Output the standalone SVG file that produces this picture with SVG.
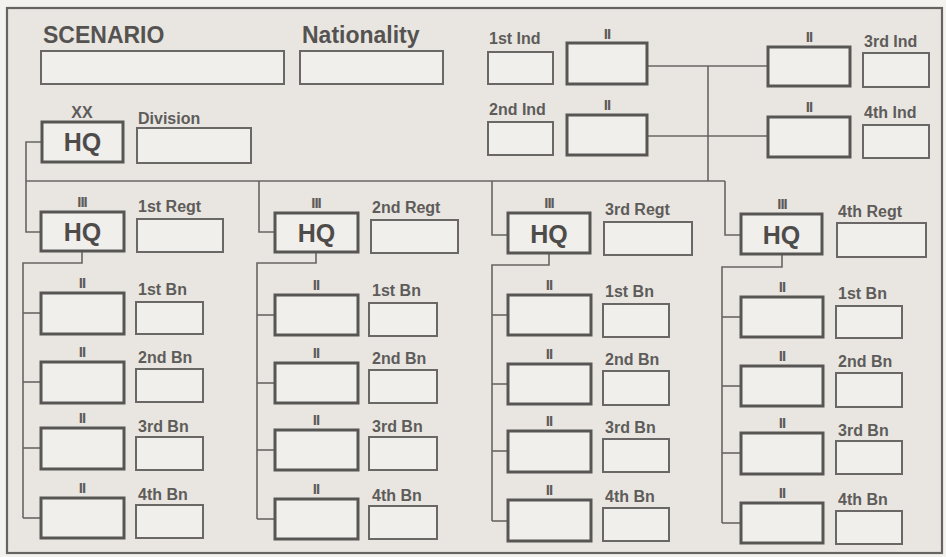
<svg xmlns="http://www.w3.org/2000/svg" width="946" height="557" viewBox="0 0 946 557">
<style>
.bg{fill:#f4f2ef}
.frame{fill:#e9e6e1;stroke:#666462;stroke-width:2.2}
.big{fill:#f1efeb;stroke:#585654;stroke-width:3}
.sm{fill:#f1efeb;stroke:#6a6866;stroke-width:2}
.lbl{font-family:"Liberation Sans",Arial,sans-serif;font-weight:bold;font-size:16px;fill:#5e5c5a}
.ttl{font-family:"Liberation Sans",Arial,sans-serif;font-weight:bold;font-size:23px;fill:#555351}
.hq{font-family:"Liberation Sans",Arial,sans-serif;font-weight:bold;font-size:25px;fill:#4e4c4a;text-anchor:middle}
.ech{font-family:"Liberation Sans",Arial,sans-serif;font-weight:bold;font-size:15px;fill:#5e5c5a;text-anchor:middle;letter-spacing:-1px}
.echb{font-family:"Liberation Sans",Arial,sans-serif;font-weight:bold;font-size:16px;fill:#5e5c5a;text-anchor:middle}
.con{fill:none;stroke:#676563;stroke-width:1.6}
</style>
<rect class="bg" x="0" y="0" width="946" height="557"/>
<rect class="frame" x="7" y="8" width="935" height="545"/>

<g id="connectors">
<polyline class="con" points="647,66 768,66"/>
<polyline class="con" points="647,136 768,136"/>
<polyline class="con" points="708,66 708,181"/>
<polyline class="con" points="42,142 26,142 26,232 41,232"/>
<polyline class="con" points="26,181 725,181"/>
<polyline class="con" points="259,181 259,232 275,232"/>
<polyline class="con" points="492,181 492,235 508,235"/>
<polyline class="con" points="725,181 725,235 741,235"/>
<polyline class="con" points="82,251 82,263 23,263 23,518"/>
<polyline class="con" points="23,313 41,313"/>
<polyline class="con" points="23,382 41,382"/>
<polyline class="con" points="23,448 41,448"/>
<polyline class="con" points="23,518 41,518"/>
<polyline class="con" points="316,252 316,263 257,263 257,519"/>
<polyline class="con" points="257,315 275,315"/>
<polyline class="con" points="257,383 275,383"/>
<polyline class="con" points="257,450 275,450"/>
<polyline class="con" points="257,519 275,519"/>
<polyline class="con" points="549,253 549,265 492,265 492,521"/>
<polyline class="con" points="492,315 508,315"/>
<polyline class="con" points="492,384 508,384"/>
<polyline class="con" points="492,451 508,451"/>
<polyline class="con" points="492,521 508,521"/>
<polyline class="con" points="782,254 782,267 722,267 722,523"/>
<polyline class="con" points="722,317 741,317"/>
<polyline class="con" points="722,386 741,386"/>
<polyline class="con" points="722,453 741,453"/>
<polyline class="con" points="722,523 741,523"/>
</g>

<g id="scenario"><text class="ttl" x="43" y="43">SCENARIO</text><rect class="sm" x="41" y="51" width="243" height="33"/></g>
<g id="nationality"><text class="ttl" x="302" y="43">Nationality</text><rect class="sm" x="300" y="51" width="143" height="33"/></g>

<g id="ind1"><text class="lbl" x="489" y="44">1st Ind</text><rect class="sm" x="488" y="52" width="65" height="32"/><text class="ech" x="607" y="39">II</text><rect class="big" x="567" y="43" width="80" height="41"/></g>
<g id="ind2"><text class="lbl" x="489" y="115">2nd Ind</text><rect class="sm" x="488" y="122" width="65" height="33"/><text class="ech" x="607" y="110">II</text><rect class="big" x="567" y="115" width="80" height="40"/></g>
<g id="ind3"><text class="ech" x="809" y="42">II</text><rect class="big" x="768" y="47" width="82" height="39"/><text class="lbl" x="864" y="47">3rd Ind</text><rect class="sm" x="863" y="53" width="66" height="34"/></g>
<g id="ind4"><text class="ech" x="809" y="112">II</text><rect class="big" x="768" y="117" width="82" height="40"/><text class="lbl" x="864" y="118">4th Ind</text><rect class="sm" x="863" y="125" width="66" height="33"/></g>

<g id="division"><text class="echb" x="82" y="118">XX</text><rect class="big" x="42" y="122" width="81" height="40"/><text class="hq" x="82.5" y="151">HQ</text><text class="lbl" x="138" y="124">Division</text><rect class="sm" x="137" y="128" width="114" height="35"/></g>

<g id="regt1"><text class="ech" x="82" y="207">III</text><rect class="big" x="41" y="212" width="83" height="39"/><text class="hq" x="82.5" y="240.5">HQ</text><text class="lbl" x="138" y="212">1st Regt</text><rect class="sm" x="137" y="219" width="86" height="33"/></g>
<g id="regt2"><text class="ech" x="316" y="208">III</text><rect class="big" x="275" y="213" width="83" height="39"/><text class="hq" x="316.5" y="241.5">HQ</text><text class="lbl" x="372" y="213">2nd Regt</text><rect class="sm" x="371" y="220" width="87" height="33"/></g>
<g id="regt3"><text class="ech" x="549" y="208">III</text><rect class="big" x="508" y="213" width="82" height="40"/><text class="hq" x="549" y="242.5">HQ</text><text class="lbl" x="605" y="215">3rd Regt</text><rect class="sm" x="604" y="222" width="88" height="33"/></g>
<g id="regt4"><text class="ech" x="782" y="209">III</text><rect class="big" x="741" y="214" width="81" height="40"/><text class="hq" x="781.5" y="243.5">HQ</text><text class="lbl" x="838" y="217">4th Regt</text><rect class="sm" x="837" y="223" width="89" height="34"/></g>

<g id="r1bn1"><text class="ech" x="82" y="288">II</text><rect class="big" x="41" y="293" width="83" height="41"/><text class="lbl" x="138" y="295">1st Bn</text><rect class="sm" x="136" y="302" width="67" height="32"/></g>
<g id="r1bn2"><text class="ech" x="82" y="357">II</text><rect class="big" x="41" y="362" width="83" height="41"/><text class="lbl" x="138" y="363">2nd Bn</text><rect class="sm" x="136" y="369" width="67" height="33"/></g>
<g id="r1bn3"><text class="ech" x="82" y="423">II</text><rect class="big" x="41" y="428" width="83" height="41"/><text class="lbl" x="138" y="432">3rd Bn</text><rect class="sm" x="136" y="437" width="67" height="33"/></g>
<g id="r1bn4"><text class="ech" x="82" y="493">II</text><rect class="big" x="41" y="498" width="83" height="40"/><text class="lbl" x="138" y="500">4th Bn</text><rect class="sm" x="136" y="505" width="67" height="33"/></g>

<g id="r2bn1"><text class="ech" x="316" y="290">II</text><rect class="big" x="275" y="295" width="83" height="40"/><text class="lbl" x="372" y="296">1st Bn</text><rect class="sm" x="369" y="303" width="68" height="33"/></g>
<g id="r2bn2"><text class="ech" x="316" y="358">II</text><rect class="big" x="275" y="363" width="83" height="40"/><text class="lbl" x="372" y="364">2nd Bn</text><rect class="sm" x="369" y="370" width="68" height="33"/></g>
<g id="r2bn3"><text class="ech" x="316" y="425">II</text><rect class="big" x="275" y="430" width="83" height="40"/><text class="lbl" x="372" y="432">3rd Bn</text><rect class="sm" x="369" y="437" width="68" height="33"/></g>
<g id="r2bn4"><text class="ech" x="316" y="494">II</text><rect class="big" x="275" y="499" width="83" height="40"/><text class="lbl" x="372" y="501">4th Bn</text><rect class="sm" x="369" y="506" width="68" height="33"/></g>

<g id="r3bn1"><text class="ech" x="549" y="290">II</text><rect class="big" x="508" y="295" width="83" height="40"/><text class="lbl" x="605" y="297">1st Bn</text><rect class="sm" x="603" y="304" width="66" height="33"/></g>
<g id="r3bn2"><text class="ech" x="549" y="359">II</text><rect class="big" x="508" y="364" width="83" height="40"/><text class="lbl" x="605" y="365">2nd Bn</text><rect class="sm" x="603" y="371" width="66" height="34"/></g>
<g id="r3bn3"><text class="ech" x="549" y="426">II</text><rect class="big" x="508" y="431" width="83" height="41"/><text class="lbl" x="605" y="433">3rd Bn</text><rect class="sm" x="603" y="439" width="66" height="33"/></g>
<g id="r3bn4"><text class="ech" x="549" y="495">II</text><rect class="big" x="508" y="500" width="83" height="41"/><text class="lbl" x="605" y="502">4th Bn</text><rect class="sm" x="603" y="508" width="66" height="33"/></g>

<g id="r4bn1"><text class="ech" x="782" y="292">II</text><rect class="big" x="741" y="297" width="82" height="40"/><text class="lbl" x="838" y="299">1st Bn</text><rect class="sm" x="836" y="306" width="66" height="32"/></g>
<g id="r4bn2"><text class="ech" x="782" y="361">II</text><rect class="big" x="741" y="366" width="82" height="40"/><text class="lbl" x="838" y="367">2nd Bn</text><rect class="sm" x="836" y="373" width="66" height="34"/></g>
<g id="r4bn3"><text class="ech" x="782" y="428">II</text><rect class="big" x="741" y="433" width="82" height="41"/><text class="lbl" x="838" y="436">3rd Bn</text><rect class="sm" x="836" y="441" width="66" height="33"/></g>
<g id="r4bn4"><text class="ech" x="782" y="498">II</text><rect class="big" x="741" y="503" width="82" height="40"/><text class="lbl" x="838" y="505">4th Bn</text><rect class="sm" x="836" y="511" width="66" height="33"/></g>
</svg>
